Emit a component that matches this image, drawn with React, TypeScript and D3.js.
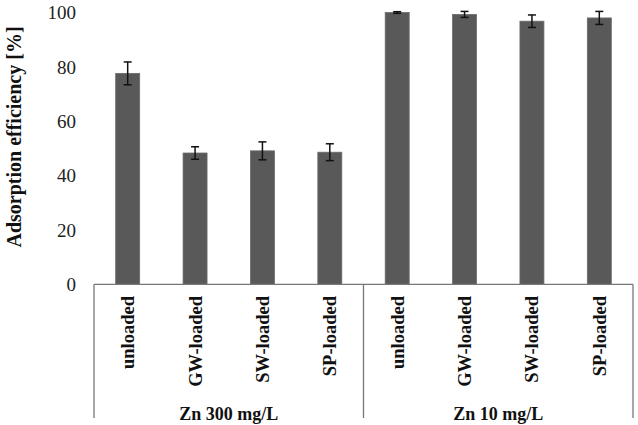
import React, { useEffect, useRef } from 'react';
import * as d3 from 'd3';

const groups = ['Zn 300 mg/L', 'Zn 10 mg/L'];
const categories = ['unloaded', 'GW-loaded', 'SW-loaded', 'SP-loaded'];
const zn300Values = [77.6, 48.3, 49.1, 48.6];
const zn300Errors = [4.2, 2.3, 3.3, 3.1];
const zn10Values = [100, 99.3, 96.8, 98.0];
const zn10Errors = [0.3, 1.1, 2.3, 2.4];
const yTicks = [0, 20, 40, 60, 80, 100];

export default function App() {
  const ref = useRef<SVGSVGElement>(null);

  useEffect(() => {
    const width = 638;
    const height = 425;
    const left = 94;
    const right = 633;
    const base = 284.3;

    const svg = d3.select(ref.current);
    svg.selectAll('*').remove();

    const rows = [
      ...categories.map((c, i) => ({ key: 'a' + i, cat: c, v: zn300Values[i], e: zn300Errors[i] })),
      ...categories.map((c, i) => ({ key: 'b' + i, cat: c, v: zn10Values[i], e: zn10Errors[i] })),
    ];

    const x = d3.scaleBand().domain(rows.map(d => d.key)).range([left, right]);
    const xGroup = d3.scaleBand().domain(groups).range([left, right]);
    const y = d3.scaleLinear().domain([0, 100]).range([base, 12.5]);
    const barW = x.bandwidth() * 0.356;

    // y tick labels
    svg.append('g')
      .selectAll('text')
      .data(yTicks)
      .enter()
      .append('text')
      .attr('x', 76)
      .attr('y', d => y(d))
      .attr('dy', '0.35em')
      .attr('text-anchor', 'end')
      .style('font-family', '"Liberation Serif", serif')
      .style('font-size', '19px')
      .attr('fill', '#222')
      .text(d => d);

    // y axis title
    svg.append('text')
      .attr('transform', 'translate(21,137) rotate(-90)')
      .attr('text-anchor', 'middle')
      .style('font-family', '"Liberation Serif", serif')
      .style('font-size', '20px')
      .style('font-weight', 'bold')
      .attr('fill', '#111')
      .text('Adsorption efficiency [%]');

    // bars
    svg.append('g')
      .selectAll('rect')
      .data(rows)
      .enter()
      .append('rect')
      .attr('x', d => x(d.key)! + x.bandwidth() / 2 - barW / 2)
      .attr('y', d => y(d.v))
      .attr('width', barW)
      .attr('height', d => base - y(d.v))
      .attr('fill', '#595959')
      .attr('stroke', '#6a6a6a')
      .attr('stroke-width', 0.8);

    // error bars
    const err = svg.append('g').attr('stroke', '#111').attr('stroke-width', 1.5);
    rows.forEach(d => {
      const cx = x(d.key)! + x.bandwidth() / 2;
      err.append('line').attr('x1', cx).attr('x2', cx).attr('y1', y(d.v + d.e)).attr('y2', y(d.v - d.e));
      err.append('line').attr('x1', cx - 4).attr('x2', cx + 4).attr('y1', y(d.v + d.e)).attr('y2', y(d.v + d.e));
      err.append('line').attr('x1', cx - 4).attr('x2', cx + 4).attr('y1', y(d.v - d.e)).attr('y2', y(d.v - d.e));
    });

    // category axis box
    const axis = svg.append('g').attr('stroke', '#777').attr('stroke-width', 1.3);
    axis.append('line').attr('x1', left).attr('x2', right).attr('y1', base).attr('y2', base);
    [left, xGroup(groups[1])!, right].forEach(px => {
      axis.append('line').attr('x1', px).attr('x2', px).attr('y1', base).attr('y2', 418);
    });

    // category labels
    svg.append('g')
      .selectAll('text')
      .data(rows)
      .enter()
      .append('text')
      .attr('transform', d => `translate(${x(d.key)! + x.bandwidth() / 2},296) rotate(-90)`)
      .attr('dy', '0.35em')
      .attr('text-anchor', 'end')
      .style('font-family', '"Liberation Serif", serif')
      .style('font-size', '18.5px')
      .style('font-weight', 'bold')
      .attr('fill', '#111')
      .text(d => d.cat);

    // group labels
    svg.append('g')
      .selectAll('text')
      .data(groups)
      .enter()
      .append('text')
      .attr('x', d => xGroup(d)! + xGroup.bandwidth() / 2)
      .attr('y', 420)
      .attr('text-anchor', 'middle')
      .style('font-family', '"Liberation Serif", serif')
      .style('font-size', '18px')
      .style('font-weight', 'bold')
      .attr('fill', '#111')
      .text(d => d);

    svg.attr('width', width).attr('height', height);
  }, []);

  return (
    <svg ref={ref} width={638} height={425}
      style={{ position: 'absolute', left: 0, top: 0, background: '#fff' }} />
  );
}
